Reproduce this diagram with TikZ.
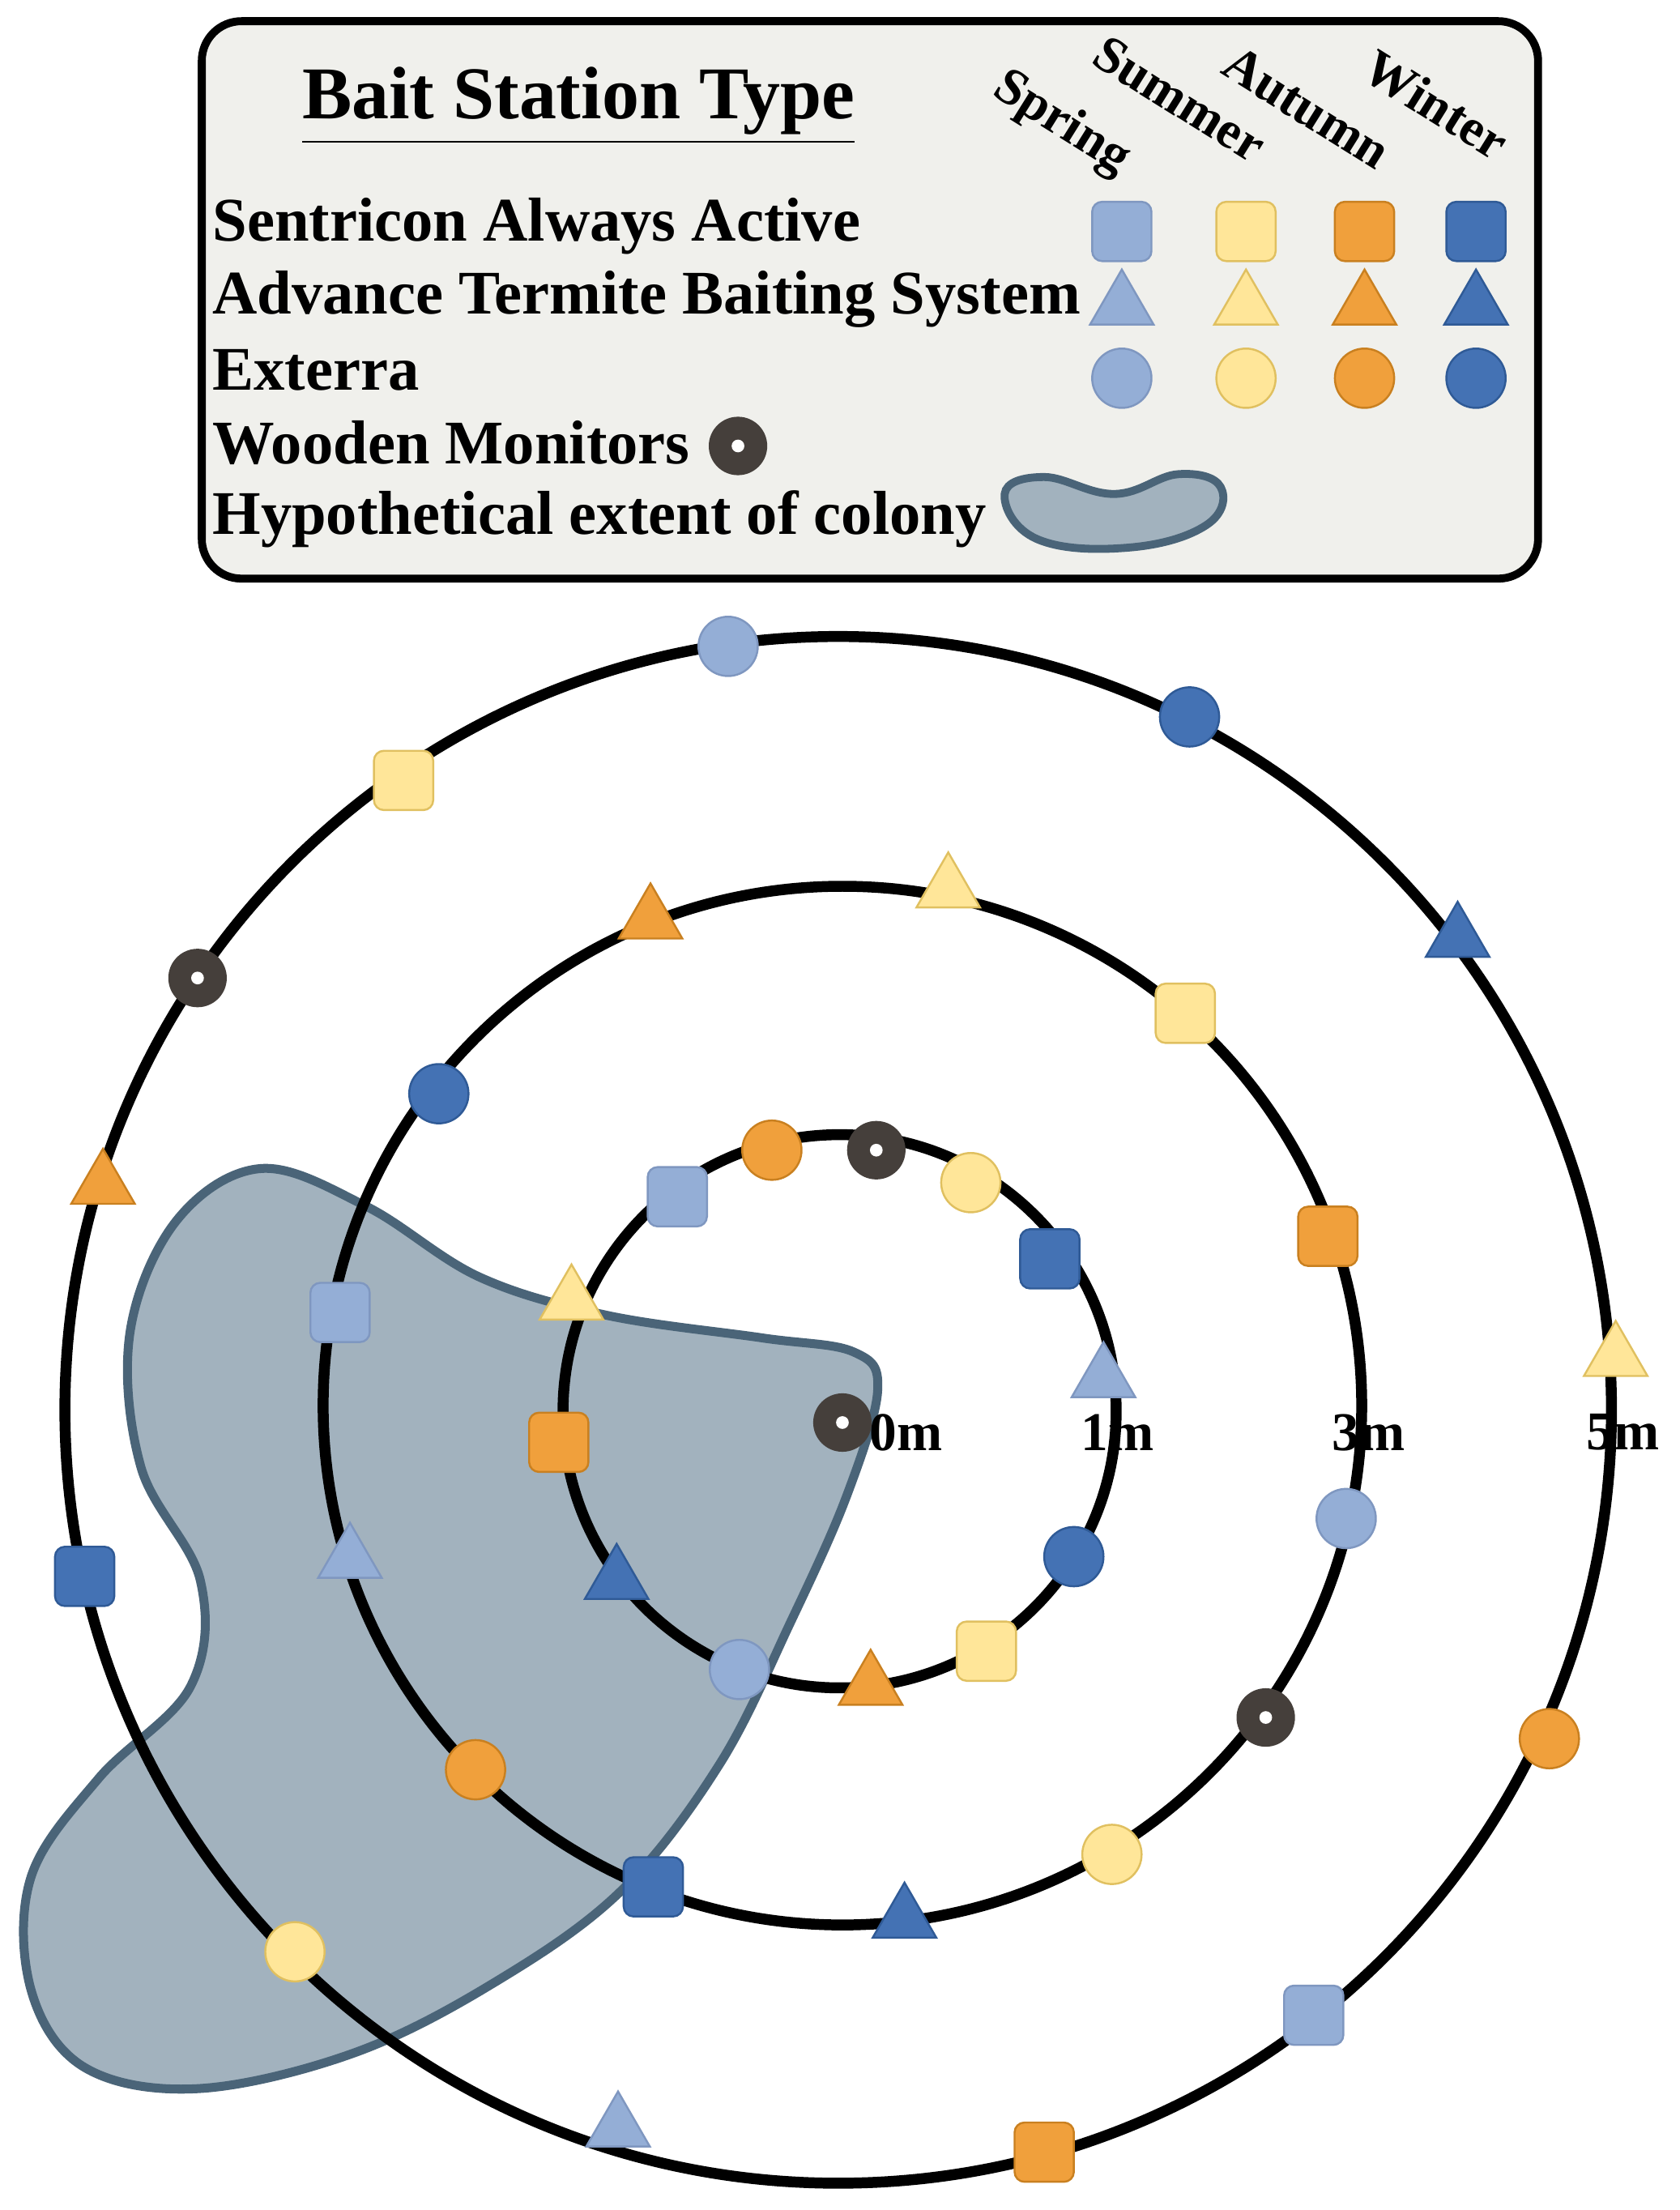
\documentclass[tikz,border=0pt]{standalone}
\usepackage{fontspec}
\setmainfont{Liberation Serif}
\usetikzlibrary{shapes.geometric}
\definecolor{sprF}{HTML}{94AED6}\definecolor{sprD}{HTML}{7F97C0}
\definecolor{sumF}{HTML}{FFE699}\definecolor{sumD}{HTML}{E0C060}
\definecolor{autF}{HTML}{F0A03C}\definecolor{autD}{HTML}{C98020}
\definecolor{winF}{HTML}{4472B4}\definecolor{winD}{HTML}{2F5A96}
\definecolor{monF}{HTML}{453F3B}
\definecolor{colF}{HTML}{A2B2BE}\definecolor{colD}{HTML}{4A6478}
\definecolor{boxF}{HTML}{F0F0EC}
\tikzset{
  spr/.style={fill=sprF,draw=sprD},
  sum/.style={fill=sumF,draw=sumD},
  aut/.style={fill=autF,draw=autD},
  win/.style={fill=winF,draw=winD},
  sq/.style={rectangle,rounded corners=2pt,minimum size=0.42cm,inner sep=0pt},
  tri/.style={regular polygon,regular polygon sides=3,minimum size=0.52cm,inner sep=0pt},
  ci/.style={circle,minimum size=0.42cm,inner sep=0pt},
  mon/.style={circle,fill=monF,draw=monF,minimum size=0.40cm,inner sep=0pt,
    path picture={\fill[white] (path picture bounding box.center) circle[radius=0.045cm];}},
  ring/.style={line width=2.2pt,black},
  lbl/.style={font=\bfseries\fontsize{12.5}{14}\selectfont,anchor=west,inner sep=0pt},
  dist/.style={font=\bfseries\fontsize{11}{13}\selectfont,inner sep=1pt},
  seas/.style={font=\bfseries\fontsize{10.5}{12}\selectfont,rotate=-32,inner sep=0pt}
}
\begin{document}
\begin{tikzpicture}[x=0.01cm,y=-0.01cm]
\useasboundingbox (0,0) rectangle (1190,1566);
% colony
\draw[colD,line width=1.8pt,fill=colF] plot[smooth cycle,tension=0.6] coordinates {
 (622,985) (600,1060) (560,1150) (510,1250) (440,1340) (350,1405) (250,1455)
 (140,1480) (60,1465) (22,1410) (22,1330) (70,1260) (135,1195) (142,1120)
 (100,1040) (92,945) (125,865) (185,828) (260,855) (340,905) (430,932)
 (540,948) (605,958)};
% rings
\draw[ring] (595,1000) circle[radius=196];
\draw[ring] (597,996) circle[radius=368];
\draw[ring] (594,999) circle[radius=548];
% outer ring
\node[ci,spr] (o1) at (516,458) {};
\node[ci,win] (o2) at (843,508) {};
\node[tri,win] (o3) at (1033,665) {};
\node[tri,sum] (o4) at (1145,962) {};
\node[ci,aut] (o5) at (1098,1232) {};
\node[sq,spr] (o6) at (931,1428) {};
\node[sq,aut] (o7) at (740,1525) {};
\node[tri,spr] (o8) at (438,1508) {};
\node[ci,sum] (o9) at (209,1383) {};
\node[sq,win] (o10) at (60,1117) {};
\node[tri,aut] (o11) at (73,840) {};
\node[mon] (o12) at (140,693) {};
\node[sq,sum] (o13) at (286,553) {};
% middle ring
\node[tri,sum] (m1) at (672,630) {};
\node[sq,sum] (m2) at (840,718) {};
\node[sq,aut] (m3) at (941,876) {};
\node[ci,spr] (m4) at (954,1076) {};
\node[mon] (m5) at (897,1217) {};
\node[ci,sum] (m6) at (788,1314) {};
\node[tri,win] (m7) at (641,1360) {};
\node[sq,win] (m8) at (463,1337) {};
\node[ci,aut] (m9) at (337,1254) {};
\node[tri,spr] (m10) at (248,1105) {};
\node[sq,spr] (m11) at (241,930) {};
\node[ci,win] (m12) at (311,775) {};
\node[tri,aut] (m13) at (461,652) {};
% inner ring
\node[ci,aut] (i1) at (547,815) {};
\node[mon] (i2) at (621,815) {};
\node[ci,sum] (i3) at (688,838) {};
\node[sq,win] (i4) at (744,892) {};
\node[tri,spr] (i5) at (782,977) {};
\node[ci,win] (i6) at (761,1103) {};
\node[sq,sum] (i7) at (699,1170) {};
\node[tri,aut] (i8) at (617,1195) {};
\node[ci,spr] (i9) at (524,1183) {};
\node[tri,win] (i10) at (437,1120) {};
\node[sq,aut] (i11) at (396,1022) {};
\node[tri,sum] (i12) at (405,922) {};
\node[sq,spr] (i13) at (480,848) {};
\node[mon] (c0) at (597,1008) {};
% distances
\node[dist] (d0) at (642,1015) {0m};
\node[dist] (d1) at (792,1015) {1m};
\node[dist] (d3) at (970,1015) {3m};
\node[dist] (d5) at (1150,1015) {5m};
% legend
\draw[line width=1.6pt,rounded corners=8pt,fill=boxF] (143,15) rectangle (1090,410);
\node[font=\bfseries\fontsize{15}{17}\selectfont] (title) at (410,75) {\underline{Bait Station Type}};
\node[seas] (hs) at (752,88) {Spring};
\node[seas] (hu) at (836,70) {Summer};
\node[seas] (ha) at (926,76) {Autumn};
\node[seas] (hw) at (1018,74) {Winter};
\node[lbl] (l1) at (150,160) {Sentricon Always Active};
\node[lbl] (l2) at (150,212) {Advance Termite Baiting System};
\node[lbl] (l3) at (150,262) {Exterra};
\node[lbl] (l4) at (150,314) {Wooden Monitors};
\node[lbl] (l5) at (150,368) {Hypothetical extent of colony};
\node[sq,spr] (k1) at (795,164) {};
\node[sq,sum] (k2) at (883,164) {};
\node[sq,aut] (k3) at (967,164) {};
\node[sq,win] (k4) at (1046,164) {};
\node[tri,spr] (k5) at (795,217) {};
\node[tri,sum] (k6) at (883,217) {};
\node[tri,aut] (k7) at (967,217) {};
\node[tri,win] (k8) at (1046,217) {};
\node[ci,spr] (k9) at (795,268) {};
\node[ci,sum] (k10) at (883,268) {};
\node[ci,aut] (k11) at (967,268) {};
\node[ci,win] (k12) at (1046,268) {};
\node[mon] (k13) at (523,316) {};
\draw[colD,line width=1.6pt,fill=colF] plot[smooth cycle,tension=0.7] coordinates {
 (712,350) (740,338) (790,350) (835,336) (865,345) (855,372) (800,388) (735,382)};
\end{tikzpicture}
\end{document}
